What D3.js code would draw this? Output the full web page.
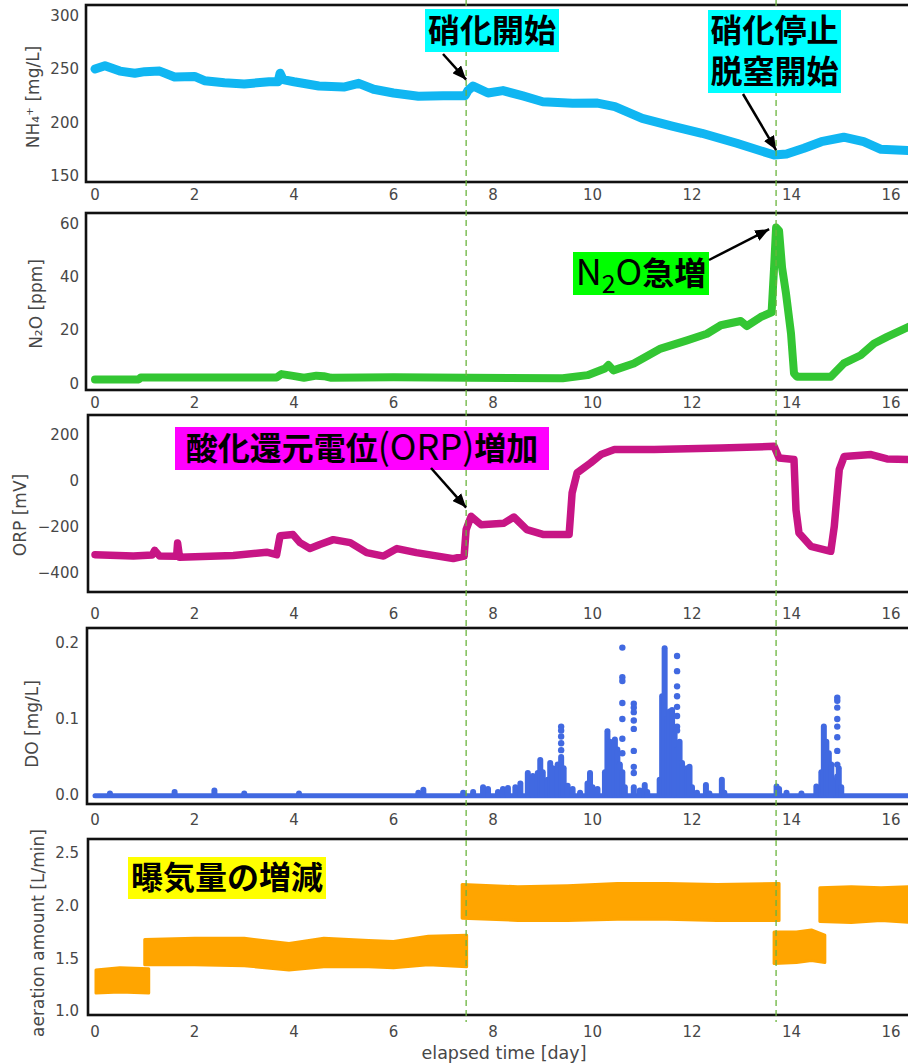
<!DOCTYPE html>
<html>
<head>
<meta charset="utf-8">
<script src="https://cdn.jsdelivr.net/npm/d3@7"></script>
<style>
  body { margin: 0; background: #fff; }
  .tick { font-family: "DejaVu Sans", sans-serif; font-size: 15px; fill: #474747; }
  .ylab { font-family: "DejaVu Sans", sans-serif; font-size: 17px; fill: #474747; }
  .note { font-family: "Noto Sans CJK JP", sans-serif; fill: #000; }
</style>
</head>
<body>
<div id="chart"></div>
<script>
// x axis
var xTicks = [0, 2, 4, 6, 8, 10, 12, 14, 16];
var eventDays = [7.46, 13.69];

// NH4+ [mg/L]
var nh4X = [0, 0.2, 0.5, 0.8, 1.0, 1.3, 1.6, 2.0, 2.2, 2.6, 3.0, 3.5, 3.68, 3.72, 3.78, 4.0, 4.5, 5.0, 5.3, 5.6, 6.0, 6.5, 7.0, 7.44, 7.5, 7.6, 7.9, 8.2, 8.6, 9.0, 9.6, 10.1, 10.45, 11.0, 11.6, 12.2, 12.9, 13.65, 13.9, 14.25, 14.6, 15.05, 15.45, 15.8, 16.4];
var nh4V = [250, 253, 248, 246, 247.5, 248, 242.5, 243, 239, 237, 236, 238, 238, 246, 240, 238, 234, 233, 236.5, 231, 227.5, 224.5, 225, 225, 230, 234, 227.5, 229.7, 224.7, 219.3, 217.8, 218, 214.7, 203.7, 196.5, 189.7, 180.3, 169.3, 170.3, 175.6, 181.8, 186, 181.8, 174.7, 173.4];
var nh4Ticks = [150, 200, 250, 300];
var nh4TickLabels = ["150", "200", "250", "300"];

// N2O [ppm]
var n2oX = [0, 0.88, 0.92, 3.65, 3.75, 3.95, 4.2, 4.45, 4.6, 4.75, 6.0, 7.5, 9.4, 9.9, 10.25, 10.32, 10.42, 10.83, 11.37, 11.9, 12.3, 12.58, 12.98, 13.1, 13.38, 13.6, 13.65, 13.69, 13.75, 13.81, 13.89, 13.99, 14.05, 14.11, 14.79, 15.05, 15.39, 15.66, 15.92, 16.4];
var n2oV = [1.4, 1.4, 2.1, 2.1, 3.4, 2.8, 2.0, 2.8, 2.6, 2.0, 2.2, 2.0, 1.8, 3.0, 5.5, 6.8, 4.8, 7.4, 13, 16.1, 18.6, 21.8, 23.4, 21.5, 24.9, 26.7, 43.6, 58.6, 57.4, 43.6, 33.7, 18.7, 3.7, 2.4, 2.4, 7.4, 10.5, 14.9, 17.4, 21.6];
var n2oTicks = [0, 20, 40, 60];
var n2oTickLabels = ["0", "20", "40", "60"];

// ORP [mV]
var orpX = [0, 0.77, 1.15, 1.2, 1.3, 1.64, 1.66, 1.7, 2.78, 3.45, 3.65, 3.72, 3.98, 4.12, 4.32, 4.52, 4.79, 5.13, 5.46, 5.8, 6.07, 6.46, 7.2, 7.42, 7.46, 7.56, 7.76, 8.22, 8.42, 8.68, 9.02, 9.53, 9.59, 9.69, 9.96, 10.17, 10.44, 11.24, 12.58, 13.65, 13.75, 14.05, 14.09, 14.15, 14.39, 14.79, 14.86, 14.96, 15.06, 15.6, 15.92, 16.4];
var orpV = [-324, -330, -325, -305, -330, -331, -273, -335, -327, -313, -324, -241, -236, -271, -297, -279, -258, -271, -315, -330, -297, -315, -341, -330, -214, -156, -193, -186, -159, -214, -236, -236, -54, 34, 77, 114, 136, 136, 143, 150, 99, 92, -127, -229, -287, -309, -200, 48, 106, 114, 95, 92];
var orpTicks = [-400, -200, 0, 200];
var orpTickLabels = ["\u2212400", "\u2212200", "0", "200"];

// DO [mg/L]: baseline, dense columns (day, top value) and loose points (day, value)
var doBaseX = [0, 16.4];
var doBaseV = [-0.001, -0.001];
var doColX = [0.3, 1.6, 2.4, 3.0, 4.1, 6.5, 6.6, 7.4, 7.6, 7.8, 7.9, 8.1, 8.2, 8.3, 8.45, 8.55, 8.7, 8.8, 8.9, 8.95, 9.0, 9.1, 9.15, 9.2, 9.3, 9.37, 9.42, 9.5, 9.6, 9.75, 9.9, 9.95, 10.0, 10.1, 10.25, 10.3, 10.35, 10.4, 10.45, 10.5, 10.55, 10.6, 10.65, 10.83, 10.95, 11.05, 11.1, 11.35, 11.4, 11.45, 11.5, 11.55, 11.6, 11.65, 11.7, 11.75, 11.8, 11.9, 11.95, 12.0, 12.1, 12.28, 12.35, 12.6, 12.65, 13.7, 13.75, 13.9, 14.2, 14.5, 14.6, 14.65, 14.7, 14.75, 14.8, 14.9, 14.95, 15.0];
var doColTop = [0.002, 0.004, 0.006, 0.002, 0.002, 0.003, 0.007, 0.003, 0.004, 0.01, 0.008, 0.004, 0.008, 0.009, 0.01, 0.015, 0.029, 0.025, 0.029, 0.046, 0.03, 0.02, 0.042, 0.035, 0.04, 0.05, 0.035, 0.012, 0.008, 0.003, 0.015, 0.029, 0.01, 0.008, 0.03, 0.084, 0.07, 0.06, 0.073, 0.06, 0.04, 0.03, 0.01, 0.01, 0.006, 0.013, 0.004, 0.02, 0.13, 0.193, 0.1, 0.11, 0.112, 0.08, 0.06, 0.07, 0.042, 0.035, 0.037, 0.01, 0.003, 0.013, 0.002, 0.02, 0.003, 0.011, 0.008, 0.003, 0.002, 0.011, 0.03, 0.09, 0.07, 0.055, 0.04, 0.02, 0.035, 0.01];
var doPtX = [9.37, 9.37, 9.37, 9.37, 9.37, 10.6, 10.6, 10.6, 10.6, 10.6, 10.6, 10.6, 10.83, 10.83, 10.83, 10.83, 10.83, 10.83, 10.83, 10.83, 11.7, 11.7, 11.7, 11.7, 11.7, 11.7, 11.7, 11.7, 14.92, 14.92, 14.92, 14.92, 14.92, 14.92, 14.92, 14.92, 14.92];
var doPtV = [0.09, 0.085, 0.077, 0.068, 0.059, 0.194, 0.155, 0.15, 0.121, 0.1, 0.074, 0.055, 0.12, 0.115, 0.109, 0.098, 0.087, 0.058, 0.037, 0.029, 0.183, 0.163, 0.143, 0.13, 0.116, 0.104, 0.09, 0.085, 0.128, 0.124, 0.115, 0.1, 0.09, 0.076, 0.058, 0.04, 0.024];
var doTicks = [0, 0.1, 0.2];
var doTickLabels = ["0.0", "0.1", "0.2"];

// aeration amount [L/min]: low / high edge of each run
var aerX  = [[0.02, 0.5, 1.08], [1.0, 2.0, 3.0, 3.9, 4.6, 5.5, 6.0, 6.7, 7.47], [7.38, 8.5, 9.5, 10.5, 11.5, 12.5, 13.75], [13.65, 14.1, 14.4, 14.67], [14.57, 15.2, 15.8, 16.4]];
var aerHi = [[1.39, 1.41, 1.40], [1.68, 1.69, 1.69, 1.64, 1.69, 1.67, 1.66, 1.71, 1.72], [2.20, 2.18, 2.19, 2.21, 2.21, 2.20, 2.21], [1.75, 1.75, 1.77, 1.72], [2.17, 2.18, 2.17, 2.18]];
var aerLo = [[1.17, 1.18, 1.17], [1.44, 1.44, 1.43, 1.39, 1.42, 1.42, 1.41, 1.44, 1.42], [1.88, 1.86, 1.86, 1.87, 1.87, 1.86, 1.86], [1.45, 1.46, 1.48, 1.46], [1.85, 1.84, 1.86, 1.84]];
var aerTicks = [1.0, 1.5, 2.0, 2.5];
var aerTickLabels = ["1.0", "1.5", "2.0", "2.5"];

var W = 908, H = 1064, RIGHT = 914;

var panels = [
  { top: 5,   bottom: 182,  left: 86, y0: 144,   y1: 310,    ticks: nh4Ticks, labels: nh4TickLabels, xLabY: 195,  title: "NH\u2084\u207A [mg/L]", titleX: 33, titleY: 97 },
  { top: 213, bottom: 390,  left: 86, y0: -2.6,  y1: 64.1,   ticks: n2oTicks, labels: n2oTickLabels, xLabY: 403,  title: "N\u2082O [ppm]",       titleX: 36, titleY: 304 },
  { top: 415, bottom: 592,  left: 88, y0: -487,  y1: 287,    ticks: orpTicks, labels: orpTickLabels, xLabY: 614,  title: "ORP [mV]",            titleX: 20, titleY: 515 },
  { top: 628, bottom: 804,  left: 87, y0: -0.0119, y1: 0.2198, ticks: doTicks, labels: doTickLabels,  xLabY: 820,  title: "DO [mg/L]",           titleX: 32, titleY: 724 },
  { top: 839, bottom: 1015, left: 88, y0: 0.962, y1: 2.633,  ticks: aerTicks, labels: aerTickLabels, xLabY: 1032, title: "aeration amount [L/min]", titleX: 38, titleY: 933 }
];

var svg = d3.select("#chart").append("svg")
    .attr("width", W)
    .attr("height", H);

var defs = svg.append("defs");
defs.append("marker")
    .attr("id", "head")
    .attr("markerUnits", "userSpaceOnUse")
    .attr("viewBox", "0 0 12 10")
    .attr("refX", 12).attr("refY", 5)
    .attr("markerWidth", 14).attr("markerHeight", 12)
    .attr("orient", "auto")
  .append("path")
    .attr("d", "M0,0 L12,5 L0,10 Z")
    .attr("fill", "#000");

var x = d3.scaleLinear().domain([0, 16]).range([95, 891]);

panels.forEach(function (p, i) {
    p.y = d3.scaleLinear().domain([p.y0, p.y1]).range([p.bottom, p.top]);
    defs.append("clipPath").attr("id", "clip" + i)
      .append("rect")
        .attr("x", p.left).attr("y", p.top)
        .attr("width", RIGHT - p.left).attr("height", p.bottom - p.top);
    p.g = svg.append("g");
    p.plot = p.g.append("g").attr("clip-path", "url(#clip" + i + ")");

    // y tick labels
    p.g.selectAll("text.yt")
        .data(p.ticks)
        .enter().append("text")
        .attr("class", "tick")
        .attr("x", 79)
        .attr("y", function (d) { return p.y(d); })
        .attr("dy", "0.36em")
        .attr("text-anchor", "end")
        .text(function (d, k) { return p.labels[k]; });

    // x tick labels
    p.g.selectAll("text.xt")
        .data(xTicks)
        .enter().append("text")
        .attr("class", "tick")
        .attr("x", function (d) { return x(d); })
        .attr("y", p.xLabY)
        .attr("dy", "0.36em")
        .attr("text-anchor", "middle")
        .text(function (d) { return d; });

    p.g.append("text")
        .attr("class", "ylab")
        .attr("transform", "translate(" + p.titleX + "," + p.titleY + ") rotate(-90)")
        .attr("dy", "0.36em")
        .attr("text-anchor", "middle")
        .text(p.title);
});

function drawLine(p, xs, vs, color, width) {
    var line = d3.line()
        .x(function (d) { return x(d[0]); })
        .y(function (d) { return p.y(d[1]); });
    p.plot.append("path")
        .datum(d3.zip(xs, vs))
        .attr("d", line)
        .attr("fill", "none")
        .attr("stroke", color)
        .attr("stroke-width", width)
        .attr("stroke-linejoin", "round")
        .attr("stroke-linecap", "round");
}

drawLine(panels[0], nh4X, nh4V, "#10b6f2", 9);
drawLine(panels[1], n2oX, n2oV, "#33c633", 8);
drawLine(panels[2], orpX, orpV, "#c71585", 7.5);

// DO
var pd = panels[3];
drawLine(pd, doBaseX, doBaseV, "#4169e1", 5);
pd.plot.selectAll("line.col")
    .data(d3.zip(doColX, doColTop))
    .enter().append("line")
    .attr("x1", function (d) { return x(d[0]); })
    .attr("x2", function (d) { return x(d[0]); })
    .attr("y1", pd.y(0))
    .attr("y2", function (d) { return pd.y(d[1]); })
    .attr("stroke", "#4169e1")
    .attr("stroke-width", 6)
    .attr("stroke-linecap", "round");
pd.plot.selectAll("circle.pt")
    .data(d3.zip(doPtX, doPtV))
    .enter().append("circle")
    .attr("cx", function (d) { return x(d[0]); })
    .attr("cy", function (d) { return pd.y(d[1]); })
    .attr("r", 3.2)
    .attr("fill", "#4169e1");

// aeration bands
var pa = panels[4];
var band = d3.area()
    .x(function (d) { return x(d[0]); })
    .y0(function (d) { return pa.y(d[1]); })
    .y1(function (d) { return pa.y(d[2]); });
aerX.forEach(function (xs, k) {
    pa.plot.append("path")
        .datum(d3.zip(xs, aerLo[k], aerHi[k]))
        .attr("d", band)
        .attr("fill", "#ffa500")
        .attr("stroke", "#ffa500")
        .attr("stroke-width", 3)
        .attr("stroke-linejoin", "round");
});

// frames
panels.forEach(function (p) {
    p.g.append("rect")
        .attr("x", p.left).attr("y", p.top)
        .attr("width", RIGHT + 20 - p.left).attr("height", p.bottom - p.top)
        .attr("fill", "none")
        .attr("stroke", "#111")
        .attr("stroke-width", 2.6);
});

// event lines across all panels
svg.selectAll("line.ev")
    .data(eventDays)
    .enter().append("line")
    .attr("x1", function (d) { return x(d); })
    .attr("x2", function (d) { return x(d); })
    .attr("y1", 0).attr("y2", 1022)
    .attr("stroke", "#6ab43c")
    .attr("stroke-width", 1.3)
    .attr("stroke-dasharray", "6,4");

svg.append("text")
    .attr("class", "ylab")
    .attr("x", 504).attr("y", 1053)
    .attr("dy", "0.36em")
    .attr("text-anchor", "middle")
    .style("font-size", "17.5px")
    .text("elapsed time [day]");

// annotations: box in pixels, arrow tip in data units of its panel
var notes = [
  { box: [425, 9, 134, 43],  fill: "#00ffff", lines: [[["硝化開始", 700, 32]]], tail: [443, 54], panel: 0, tip: [7.46, 240] },
  { box: [708, 10, 133, 83], fill: "#00ffff", lines: [[["硝化停止", 700, 32]], [["脱窒開始", 700, 32]]], tail: [743, 94], panel: 0, tip: [13.69, 174] },
  { box: [573, 252, 136, 43], fill: "#00ff00", lines: [[["N", 400, 36], ["2", 400, 25, 8], ["O", 400, 36, -8], ["急増", 700, 32]]], tail: [709, 260], panel: 1, tip: [13.55, 58] },
  { box: [175, 427, 374, 43], fill: "#ff00ff", lines: [[["酸化還元電位", 700, 32], ["(ORP)", 400, 36], ["増加", 700, 32]]], tail: [431, 468], panel: 2, tip: [7.46, -118] },
  { box: [128, 857, 198, 42], fill: "#ffff00", lines: [[["曝気量の増減", 700, 32]]] }
];

notes.forEach(function (n) {
    var b = n.box;
    svg.append("rect")
        .attr("x", b[0]).attr("y", b[1])
        .attr("width", b[2]).attr("height", b[3])
        .attr("fill", n.fill);
    var lh = b[3] / n.lines.length;
    n.lines.forEach(function (parts, li) {
        var t = svg.append("text")
            .attr("class", "note")
            .attr("x", b[0] + b[2] / 2)
            .attr("y", b[1] + lh * li + lh / 2 + 11)
            .attr("text-anchor", "middle");
        parts.forEach(function (s) {
            var ts = t.append("tspan")
                .attr("font-weight", s[1])
                .attr("font-size", s[2] + "px")
                .text(s[0]);
            if (s[3]) ts.attr("dy", s[3]);
        });
    });
    if (n.tip) {
        var p = panels[n.panel];
        svg.append("line")
            .attr("x1", n.tail[0]).attr("y1", n.tail[1])
            .attr("x2", x(n.tip[0])).attr("y2", p.y(n.tip[1]))
            .attr("stroke", "#000")
            .attr("stroke-width", 2.5)
            .attr("marker-end", "url(#head)");
    }
});
</script>
</body>
</html>
